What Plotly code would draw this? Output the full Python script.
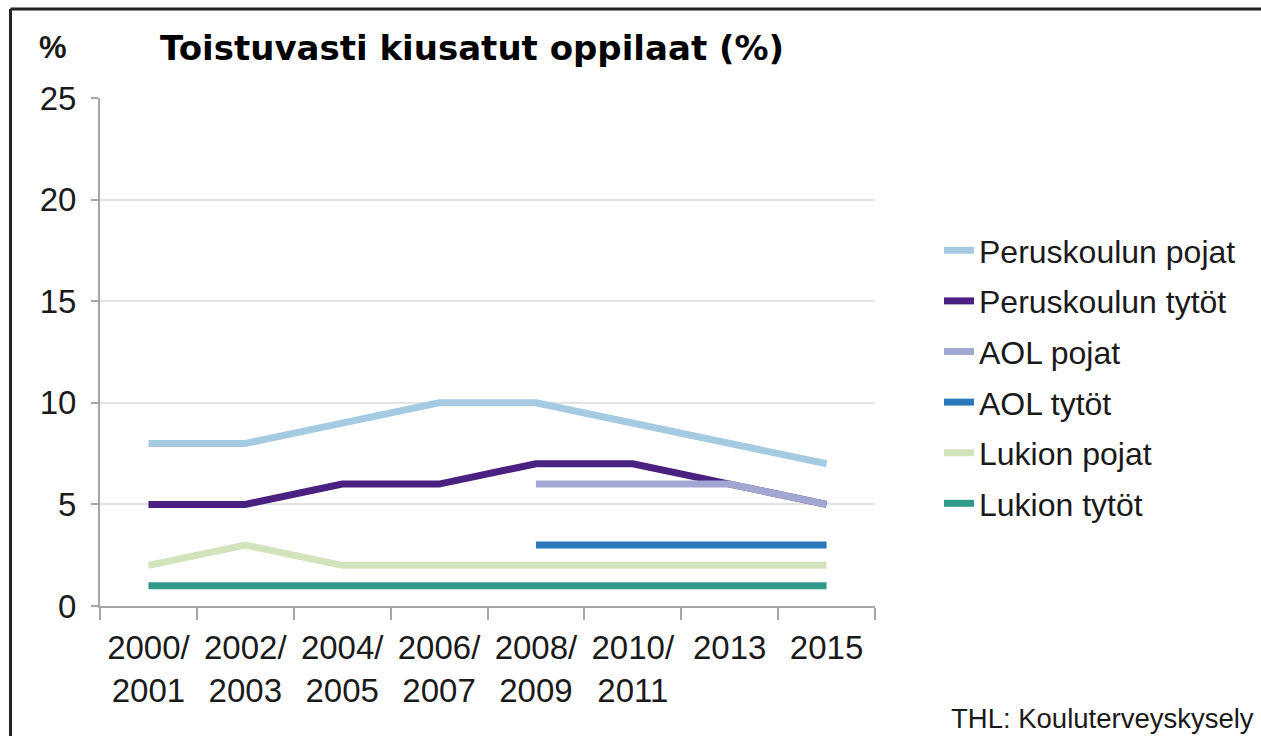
import plotly.graph_objects as go

categories = ["2000/<br>2001", "2002/<br>2003", "2004/<br>2005", "2006/<br>2007",
              "2008/<br>2009", "2010/<br>2011", "2013", "2015"]

peruskoulun_pojat = [8, 8, 9, 10, 10, 9, 8, 7]
peruskoulun_tytot = [5, 5, 6, 6, 7, 7, 6, 5]
aol_pojat = [None, None, None, None, 6, 6, 6, 5]
aol_tytot = [None, None, None, None, 3, 3, 3, 3]
lukion_pojat = [2, 3, 2, 2, 2, 2, 2, 2]
lukion_tytot = [1, 1, 1, 1, 1, 1, 1, 1]

series = [
    ("Peruskoulun pojat", peruskoulun_pojat, "#a5cbe3"),
    ("Peruskoulun tytöt", peruskoulun_tytot, "#4a2080"),
    ("AOL pojat", aol_pojat, "#a0a8d2"),
    ("AOL tytöt", aol_tytot, "#2b79bb"),
    ("Lukion pojat", lukion_pojat, "#d3e4bd"),
    ("Lukion tytöt", lukion_tytot, "#2f9a89"),
]

W, H = 1261, 736
L, R, T, B = 100, 386, 98, 130
PW, PH = W - L - R, H - T - B

def px(x):
    return (x - L) / PW

def py(y):
    return (H - B - y) / PH

fig = go.Figure()
for i, (name, vals, col) in enumerate(series):
    fig.add_trace(go.Scatter(
        x=categories, y=vals, name=name, mode="lines",
        line=dict(color=col, width=7),
        legendgroup="g%d" % i,
        connectgaps=False,
    ))

font = "Liberation Sans, Arial, sans-serif"

fig.update_layout(
    width=W, height=H,
    margin=dict(l=L, r=R, t=T, b=B, autoexpand=False),
    paper_bgcolor="white", plot_bgcolor="white",
    font=dict(family=font, size=33, color="#1a1a1a"),
    showlegend=True,
    legend=dict(
        x=px(939), y=py(223), xanchor="left", yanchor="top",
        font=dict(family=font, size=32, color="#1a1a1a"),
        tracegroupgap=6, bgcolor="rgba(0,0,0,0)",
        itemwidth=30,
    ),
    xaxis=dict(
        type="category", tickson="boundaries", ticks="outside", ticklen=12,
        tickcolor="#a6a6a6", tickwidth=2, showline=True, linecolor="#a6a6a6",
        linewidth=2, showgrid=False, range=[-0.5, 7.5], ticklabelstandoff=11,
        tickfont=dict(family=font, size=33, color="#1a1a1a"),
    ),
    yaxis=dict(
        range=[0, 25], tickvals=[0, 5, 10, 15, 20, 25], ticks="outside",
        ticklen=7, tickcolor="#a6a6a6", tickwidth=2, showline=True,
        linecolor="#a6a6a6", linewidth=2, gridcolor="#e3e3e3", gridwidth=1.5,
        zeroline=False, ticklabelstandoff=8,
        tickfont=dict(family=font, size=33, color="#1a1a1a"),
    ),
    shapes=[
        dict(type="line", xref="paper", yref="paper", x0=px(10.5), x1=px(1261),
             y0=py(9), y1=py(9), line=dict(color="#222222", width=3)),
        dict(type="line", xref="paper", yref="paper", x0=px(10.5), x1=px(10.5),
             y0=py(9), y1=py(736), line=dict(color="#222222", width=3)),
    ],
    annotations=[
        dict(text="<b>Toistuvasti kiusatut oppilaat (%)</b>", xref="paper", yref="paper",
             x=px(158), y=py(48), xanchor="left", yanchor="middle", showarrow=False,
             font=dict(family="DejaVu Sans", size=34, color="#000000")),
        dict(text="<b>%</b>", xref="paper", yref="paper",
             x=px(37), y=py(48), xanchor="left", yanchor="middle", showarrow=False,
             font=dict(family=font, size=31, color="#1a1a1a")),
        dict(text="THL: Kouluterveyskysely", xref="paper", yref="paper",
             x=px(1256), y=py(718), xanchor="right", yanchor="middle", showarrow=False,
             font=dict(family=font, size=27.5, color="#1a1a1a")),
    ],
)

fig.write_html("out.html", config={"displayModeBar": False},
               post_script="document.body.style.margin='0';document.body.style.overflow='hidden';")
